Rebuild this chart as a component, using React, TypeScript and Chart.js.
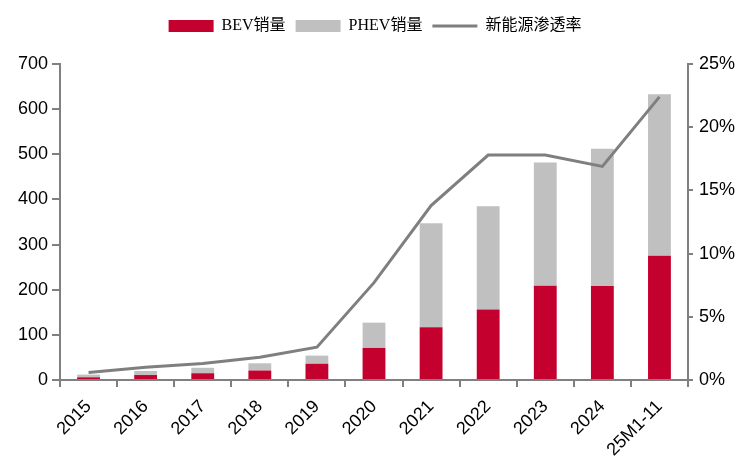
import { Chart, registerables } from 'chart.js';
import { useEffect, useRef } from 'react';

Chart.register(...registerables);

const years = ['2015', '2016', '2017', '2018', '2019', '2020', '2021', '2022', '2023', '2024', '25M1-11'];
const bevSales = [6, 11, 15, 21, 36, 71, 117, 156, 209, 208, 275];
const phevSales = [6, 9, 12, 16, 18, 56, 230, 229, 273, 304, 358];
const nevShare = [0.6, 1.0, 1.3, 1.8, 2.6, 7.7, 13.8, 17.8, 17.8, 16.9, 22.4];

const AXIS_GREY = '#808080';
const tickFont = { family: 'Liberation Sans, Arial, sans-serif', size: 18 };

// extra room under the legend so the plot starts where the original does
const legendMargin = {
    id: 'legendMargin',
    beforeInit(chart: any) {
        const fitValue = chart.legend.fit;
        chart.legend.fit = function fit() {
            fitValue.bind(chart.legend)();
            this.height += 20;
        };
    },
};

const App = () => {
    const chartRef = useRef<HTMLCanvasElement | null>(null);
    const chartInstance = useRef<Chart | null>(null);

    useEffect(() => {
        document.body.style.margin = '0';
        if (!chartRef.current) return;
        const ctx = chartRef.current.getContext('2d');
        if (!ctx) return;

        if (chartInstance.current) {
            chartInstance.current.destroy();
        }

        chartInstance.current = new Chart(ctx, {
            type: 'bar',
            data: {
                labels: years,
                datasets: [
                    {
                        type: 'bar',
                        label: 'BEV销量',
                        data: bevSales,
                        backgroundColor: '#C4002F',
                        yAxisID: 'y',
                        categoryPercentage: 1,
                        barPercentage: 0.4,
                    },
                    {
                        type: 'bar',
                        label: 'PHEV销量',
                        data: phevSales,
                        backgroundColor: '#C0C0C0',
                        yAxisID: 'y',
                        categoryPercentage: 1,
                        barPercentage: 0.4,
                    },
                    {
                        type: 'line',
                        label: '新能源渗透率',
                        data: nevShare,
                        borderColor: '#7F7F7F',
                        backgroundColor: '#7F7F7F',
                        borderWidth: 3,
                        pointRadius: 0,
                        tension: 0,
                        yAxisID: 'y1',
                        order: -1,
                    },
                ],
            },
            options: {
                responsive: false,
                maintainAspectRatio: false,
                animation: false,
                layout: {
                    padding: { top: 8, left: 0, right: 0, bottom: 0 },
                },
                plugins: {
                    tooltip: { enabled: false },
                    legend: {
                        position: 'top',
                        labels: {
                            usePointStyle: true,
                            pointStyleWidth: 45,
                            boxHeight: 12,
                            padding: 10,
                            color: '#000',
                            font: { family: 'Liberation Serif, Noto Sans CJK SC, serif', size: 16 },
                            sort: (a, b) => (a.datasetIndex ?? 0) - (b.datasetIndex ?? 0),
                            generateLabels: (chart) => {
                                const items = Chart.defaults.plugins.legend.labels.generateLabels(chart);
                                return items.map((item) => {
                                    const ds = chart.data.datasets[item.datasetIndex ?? 0];
                                    return { ...item, pointStyle: ds.type === 'line' ? 'line' : 'rect' };
                                });
                            },
                        },
                    },
                },
                scales: {
                    x: {
                        stacked: true,
                        grid: {
                            offset: true,
                            drawOnChartArea: false,
                            drawTicks: true,
                            tickLength: 7,
                            color: AXIS_GREY,
                            lineWidth: 2,
                        },
                        border: { color: AXIS_GREY, width: 2 },
                        ticks: {
                            color: '#000',
                            font: tickFont,
                            maxRotation: 45,
                            minRotation: 45,
                            padding: 9,
                        },
                        afterFit: (scale) => {
                            scale.height = 76;
                        },
                    },
                    y: {
                        stacked: true,
                        position: 'left',
                        min: 0,
                        max: 700,
                        grid: {
                            drawOnChartArea: false,
                            tickLength: 8,
                            color: AXIS_GREY,
                            lineWidth: 2,
                        },
                        border: { color: AXIS_GREY, width: 2 },
                        ticks: {
                            stepSize: 100,
                            color: '#000',
                            font: tickFont,
                            padding: 4,
                        },
                        afterFit: (scale) => {
                            scale.width = 60;
                        },
                    },
                    y1: {
                        position: 'right',
                        min: 0,
                        max: 25,
                        grid: {
                            drawOnChartArea: false,
                            tickLength: 5,
                            color: AXIS_GREY,
                            lineWidth: 2,
                        },
                        border: { color: AXIS_GREY, width: 2 },
                        ticks: {
                            stepSize: 5,
                            color: '#000',
                            font: tickFont,
                            padding: 6,
                            callback: (value) => `${value}%`,
                        },
                        afterFit: (scale) => {
                            scale.width = 62;
                        },
                    },
                },
            },
            plugins: [legendMargin],
        });

        return () => {
            if (chartInstance.current) {
                chartInstance.current.destroy();
                chartInstance.current = null;
            }
        };
    }, []);

    return (
        <div style={{ width: 750, height: 456 }}>
            <canvas ref={chartRef} width={750} height={456} />
        </div>
    );
};

export default App;
